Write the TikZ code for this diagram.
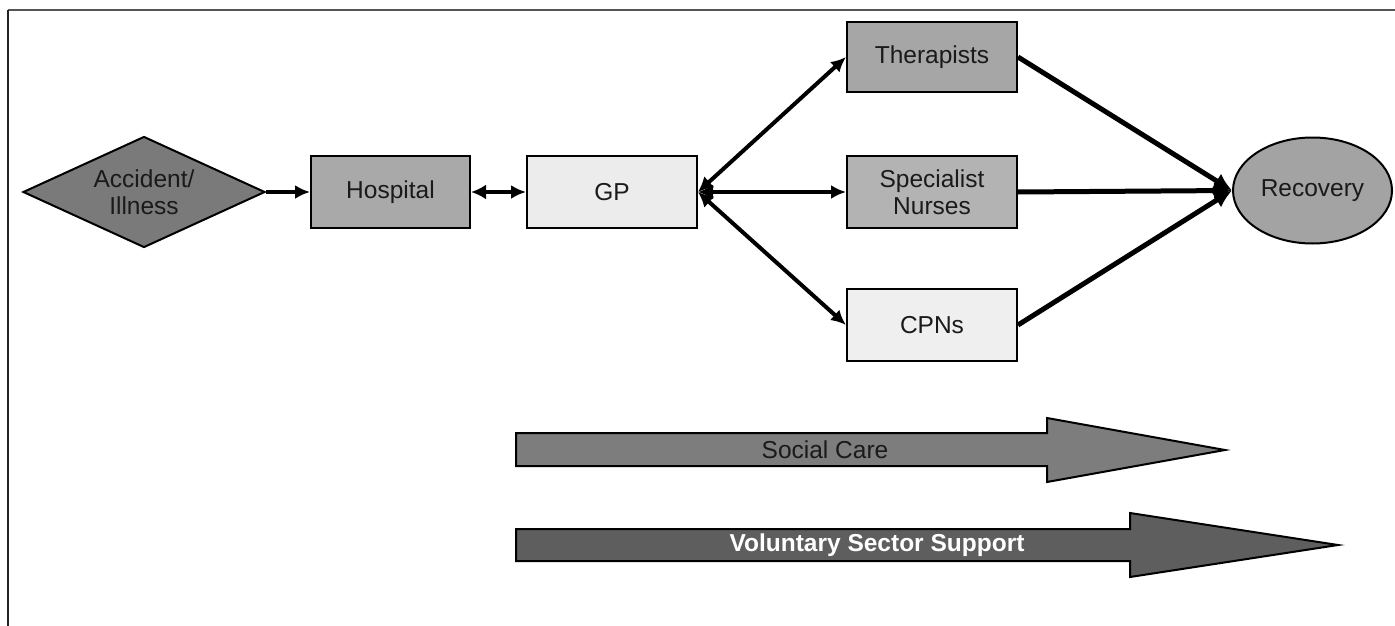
\documentclass[tikz,border=0pt]{standalone}
\usepackage{fontspec}
\setmainfont{Liberation Sans}
\usetikzlibrary{shapes.geometric,arrows.meta}
\definecolor{txt}{HTML}{1A1A1A}
\definecolor{cdiam}{HTML}{7A7A7A}
\definecolor{chosp}{HTML}{A9A9A9}
\definecolor{cgp}{HTML}{ECECEC}
\definecolor{cther}{HTML}{A6A6A6}
\definecolor{cspec}{HTML}{B3B3B3}
\definecolor{ccpn}{HTML}{EFEFEF}
\definecolor{creco}{HTML}{A3A3A3}
\definecolor{csoc}{HTML}{7D7D7D}
\definecolor{cvol}{HTML}{5E5E5E}
\definecolor{frametop}{HTML}{555555}
\definecolor{frameleft}{HTML}{222222}
\begin{document}
\begin{tikzpicture}[x=1pt,y=-1pt,
  lbl/.style={font=\fontsize{24.5}{27}\selectfont, text=txt, align=center},
  box/.style={lbl, draw=black, line width=2pt, minimum width=170pt, minimum height=72pt, inner sep=0pt},
  link/.style={line width=3.5pt, -{Latex[length=15pt,width=14pt]}},
  dlink/.style={line width=4pt, {Latex[length=15pt,width=15pt]}-{Latex[length=15pt,width=14pt]}},
  rlink/.style={line width=5pt, -{Latex[length=18pt,width=17pt]}},
  bigarrow/.style={draw=black, line width=2pt, line join=miter}
]
\useasboundingbox (0,0) rectangle (1395,626);
\fill[white] (0,0) rectangle (1395,626);
% frame
\coordinate (fl) at (8,626);
\coordinate (fc) at (8,10);
\coordinate (fr) at (1395,10);
\draw[frametop, line width=2.5pt] (fc) -- (fr);
\draw[frameleft, line width=2.5pt] (fl) -- (fc);

% nodes
\node[lbl, diamond, aspect=2.2, draw=black, line width=2pt, fill=cdiam, minimum width=242pt, minimum height=111pt, inner sep=0pt] (acc) at (144,192) {Accident/\\Illness};
\node[box, fill=chosp, minimum width=159pt] (hosp) at (390.5,192) {Hospital};
\node[box, fill=cgp] (gp) at (612,192) {GP};
\node[box, fill=cther, minimum height=70pt] (ther) at (932,57) {Therapists};
\node[box, fill=cspec] (spec) at (932,192) {Specialist\\Nurses};
\node[box, fill=ccpn] (cpn) at (932,325) {CPNs};
\node[lbl, ellipse, draw=black, line width=2pt, fill=creco, minimum width=159pt, minimum height=106pt, inner sep=0pt] (reco) at (1312.5,190.5) {Recovery};

% connectors
\draw[link] (acc.east) -- (hosp.west);
\draw[dlink] (hosp.east) -- (gp.west);
\draw[dlink] (gp.east) -- (ther.west);
\draw[dlink] (gp.east) -- (spec.west);
\draw[dlink] (gp.east) -- (cpn.west);
\draw[rlink] (ther.east) -- (reco.west);
\draw[rlink] (spec.east) -- (reco.west);
\draw[rlink] (cpn.east) -- (reco.west);

% big arrows
\draw[bigarrow, fill=csoc] (516,433) -- (1047,433) -- (1047,418) -- (1225,450) -- (1047,482) -- (1047,466) -- (516,466) -- cycle;
\node[lbl] (soc) at (825,450) {Social Care};
\draw[bigarrow, fill=cvol] (516,529) -- (1130,529) -- (1130,513) -- (1338,545) -- (1130,577) -- (1130,561) -- (516,561) -- cycle;
\node[lbl, text=white, font=\fontsize{24.5}{27}\selectfont\bfseries] (vol) at (877,545) {Voluntary Sector Support};
\end{tikzpicture}
\end{document}
